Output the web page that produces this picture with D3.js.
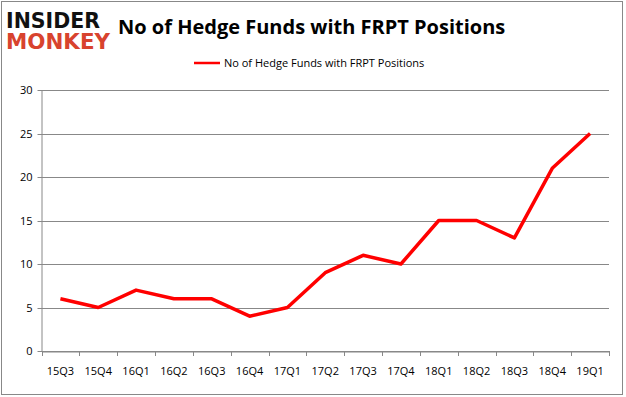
<!DOCTYPE html>
<html>
<head>
<meta charset="utf-8">
<script src="https://cdn.jsdelivr.net/npm/d3@7"></script>
<style>
body { margin: 0; background: #fff; }
text { font-family: "Open Sans", "Liberation Sans", sans-serif; }
</style>
</head>
<body>
<svg id="chart" width="626" height="397"></svg>
<script>
// data
var quarters = ["15Q3","15Q4","16Q1","16Q2","16Q3","16Q4","17Q1","17Q2","17Q3","17Q4","18Q1","18Q2","18Q3","18Q4","19Q1"];
var funds = [6, 5, 7, 6, 6, 4, 5, 9, 11, 10, 15, 15, 13, 21, 25];
var yTicks = [0, 5, 10, 15, 20, 25, 30];
var seriesName = "No of Hedge Funds with FRPT Positions";

var svg = d3.select("#chart");

// outer frame
svg.append("rect")
	.attr("x", 1.5).attr("y", 1.5)
	.attr("width", 621).attr("height", 393)
	.attr("fill", "none").attr("stroke", "#888").attr("stroke-width", 1);

// logo
svg.append("text").attr("x", 6).attr("y", 28)
	.attr("textLength", 94).attr("lengthAdjust", "spacingAndGlyphs")
	.style("font-family", "DejaVu Sans").style("font-weight", "bold").style("font-size", "22px")
	.attr("fill", "#111").text("INSIDER");
svg.append("text").attr("x", 6).attr("y", 49)
	.attr("textLength", 104).attr("lengthAdjust", "spacingAndGlyphs")
	.style("font-family", "DejaVu Sans").style("font-weight", "bold").style("font-size", "22px")
	.attr("fill", "#d8432e").text("MONKEY");

// title
svg.append("text").attr("x", 118).attr("y", 34)
	.style("font-weight", "bold").style("font-size", "20px")
	.attr("fill", "#000").text(seriesName);

// legend
svg.append("line").attr("x1", 194).attr("x2", 220).attr("y1", 63).attr("y2", 63)
	.attr("stroke", "#ff0000").attr("stroke-width", 2.5);
svg.append("text").attr("x", 224).attr("y", 67)
	.style("font-size", "11px").attr("fill", "#000").text(seriesName);

var plotLeft = 41.5, plotRight = 609, plotTop = 90, plotBottom = 351;

var x = d3.scaleBand().domain(quarters).range([plotLeft, plotRight]);
var y = d3.scaleLinear().domain([0, 30]).range([plotBottom, plotTop]);

// gridlines
svg.append("g").selectAll("line").data(yTicks).enter().append("line")
	.attr("x1", plotLeft - 4).attr("x2", plotRight)
	.attr("y1", function(d) { return Math.round(y(d)) + 0.5; })
	.attr("y2", function(d) { return Math.round(y(d)) + 0.5; })
	.attr("stroke", "#888").attr("stroke-width", 1);

// y axis
var yAxis = svg.append("g").attr("transform", "translate(" + plotLeft + ",0)")
	.call(d3.axisLeft(y).tickValues(yTicks).tickSize(0).tickPadding(9));
yAxis.select(".domain").attr("stroke", "#888");
yAxis.selectAll("text").style("font-size", "11px").style("font-family", "Open Sans").attr("fill", "#000");

// x axis
var xAxis = svg.append("g").attr("transform", "translate(0," + (Math.round(plotBottom) + 0.5) + ")")
	.call(d3.axisBottom(x).tickSize(0).tickPadding(16));
xAxis.select(".domain").attr("stroke", "#888");
xAxis.selectAll("text").style("font-size", "11px").style("font-family", "Open Sans").attr("fill", "#000");

// x tick marks at band edges
var edges = quarters.map(function(q) { return x(q); }).concat([plotRight]);
svg.append("g").selectAll("line").data(edges).enter().append("line")
	.attr("x1", function(d) { return Math.round(d) + 0.5; })
	.attr("x2", function(d) { return Math.round(d) + 0.5; })
	.attr("y1", plotBottom).attr("y2", plotBottom + 5)
	.attr("stroke", "#888");

// series line
var line = d3.line()
	.x(function(d, i) { return x(quarters[i]) + x.bandwidth() / 2; })
	.y(function(d) { return y(d); });

svg.append("path").datum(funds)
	.attr("d", line)
	.attr("fill", "none")
	.attr("stroke", "#ff0000")
	.attr("stroke-width", 3.5)
	.attr("stroke-linejoin", "round");
</script>
</body>
</html>
